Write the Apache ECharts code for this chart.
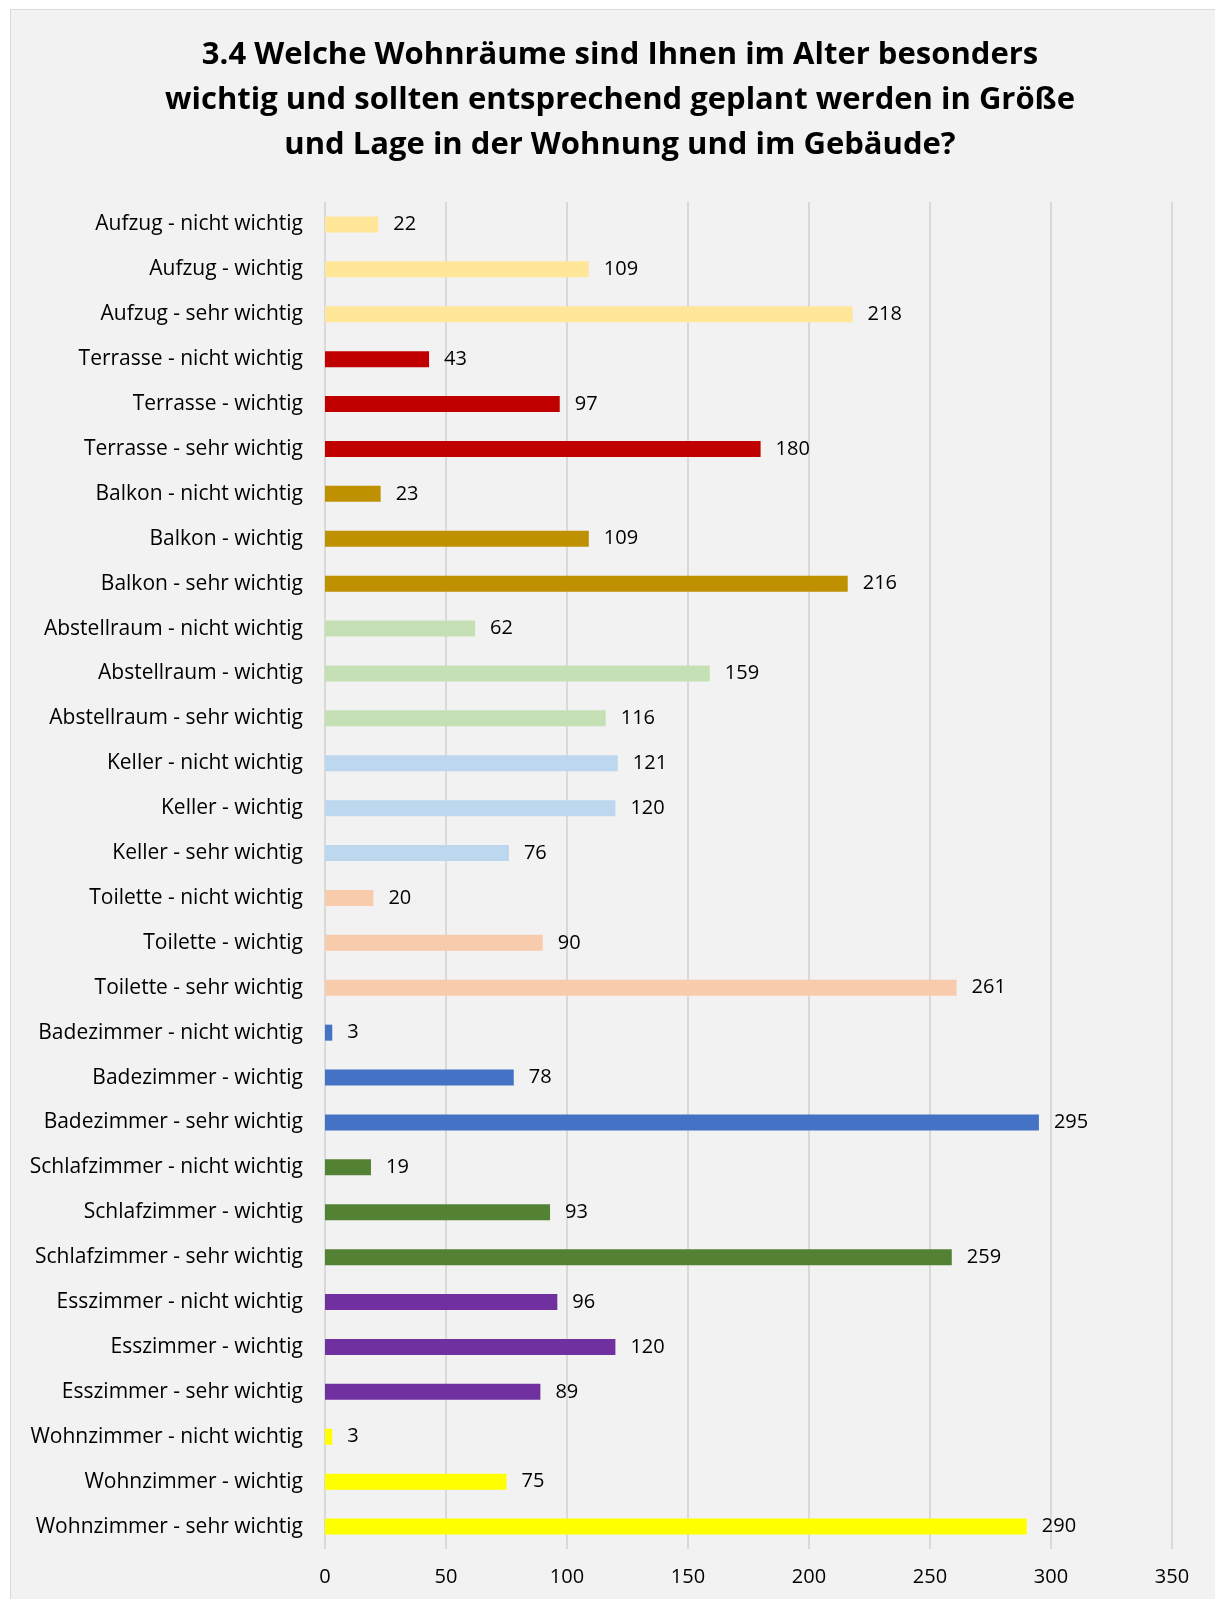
<!DOCTYPE html>
<html lang="de">
<head>
<meta charset="UTF-8">
<title>Wohnräume im Alter</title>
<style>
    * { padding: 0; margin: 0; }
    body { background: #ffffff; }
    #frame {
        position: absolute; left: 10px; top: 9px; width: 1215px; height: 1600px;
        background: #f2f2f2; border: 1px solid #d9d9d9;
    }
    #main { position: absolute; left: 0; top: 0; width: 1215px; height: 1599px; }
</style>
<script src="https://cdn.jsdelivr.net/npm/echarts@6/dist/echarts.min.js"></script>
</head>
<body>
<div id="frame"></div>
<div id="main"></div>
<script>
    // Räume von oben nach unten
    var rooms = ['Aufzug', 'Terrasse', 'Balkon', 'Abstellraum', 'Keller', 'Toilette',
                 'Badezimmer', 'Schlafzimmer', 'Esszimmer', 'Wohnzimmer'];
    var levels = ['nicht wichtig', 'wichtig', 'sehr wichtig'];
    // Werte je Raum: nicht wichtig, wichtig, sehr wichtig
    var aufzug       = [22, 109, 218];
    var terrasse     = [43, 97, 180];
    var balkon       = [23, 109, 216];
    var abstellraum  = [62, 159, 116];
    var keller       = [121, 120, 76];
    var toilette     = [20, 90, 261];
    var badezimmer   = [3, 78, 295];
    var schlafzimmer = [19, 93, 259];
    var esszimmer    = [96, 120, 89];
    var wohnzimmer   = [3, 75, 290];
    var roomColors = ['#FFE699', '#C00000', '#BF9000', '#C5E0B4', '#BDD7EE', '#F8CBAD',
                      '#4472C4', '#548235', '#7030A0', '#FFFF00'];
    var xTicks = [0, 50, 100, 150, 200, 250, 300, 350];

    var roomValues = [aufzug, terrasse, balkon, abstellraum, keller, toilette,
                      badezimmer, schlafzimmer, esszimmer, wohnzimmer];
    var categories = [];
    var barData = [];
    for (var r = 0; r < rooms.length; r++) {
        for (var l = 0; l < levels.length; l++) {
            categories.push(rooms[r] + ' - ' + levels[l]);
            barData.push({ value: roomValues[r][l], itemStyle: { color: roomColors[r] } });
        }
    }

    var myChart = echarts.init(document.getElementById('main'), null, { renderer: 'canvas' });
    var font = '"Open Sans", "Noto Sans", sans-serif';
    var option = {
        backgroundColor: 'transparent',
        title: {
            text: '3.4 Welche Wohnräume sind Ihnen im Alter besonders\nwichtig und sollten entsprechend geplant werden in Größe\nund Lage in der Wohnung und im Gebäude?',
            left: 615,
            top: 28,
            textAlign: 'center',
            textStyle: {
                fontFamily: font,
                fontSize: 31,
                fontWeight: 'bold',
                color: '#000000',
                lineHeight: 45
            }
        },
        grid: { left: 325, right: 43, top: 202, bottom: 50, containLabel: false },
        xAxis: {
            type: 'value',
            min: xTicks[0],
            max: xTicks[xTicks.length - 1],
            interval: 50,
            axisLine: { show: false },
            axisTick: { show: false },
            splitLine: { show: true, lineStyle: { color: '#d9d9d9', width: 2 } },
            axisLabel: { fontFamily: font, fontSize: 20, color: '#000000', margin: 18 }
        },
        yAxis: {
            type: 'category',
            inverse: true,
            data: categories,
            axisLine: { show: false },
            axisTick: { show: false },
            axisLabel: { fontFamily: font, fontSize: 21, color: '#000000', margin: 22, interval: 0 }
        },
        series: [{
            type: 'bar',
            data: barData,
            barWidth: 16,
            label: {
                show: true,
                position: 'right',
                distance: 15,
                fontFamily: font,
                fontSize: 20,
                color: '#000000'
            }
        }]
    };
    myChart.setOption(option);
</script>
</body>
</html>
